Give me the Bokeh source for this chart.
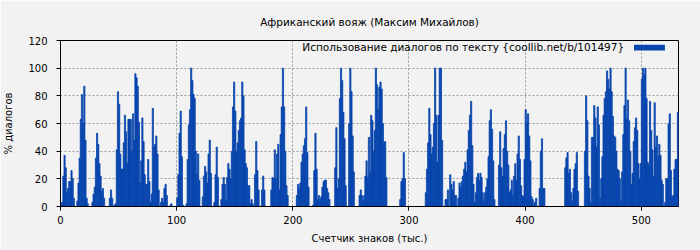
from bokeh.plotting import figure
from bokeh.models import Range1d, FixedTicker, Label, BoxAnnotation
from bokeh.embed import file_html
from bokeh.resources import INLINE

title_text = "Африканский вояж (Максим Михайлов)"
x_label = "Счетчик знаков (тыс.)"
y_label = "% диалогов"
legend_text = "Использование диалогов по тексту {coollib.net/b/101497}"

x_ticks = [0, 100, 200, 300, 400, 500]
y_ticks = [0, 20, 40, 60, 80, 100, 120]

# % of dialogue per 1000-character block, blocks 0..531
values_000 = [2,3,22,37,28,10,13,18,18,26, 20,6,0,0,4,17,35,63,81,60,
              87,48,6,2,0,0,0,3,9,14, 35,53,45,31,22,11,13,6,0,0,
              0,0,6,12,6,0,1,2,41,83, 74,38,27,27,46,66,54,31,63,63,
              63,40,67,48,96,93,87,61,17,33, 64,47,23,
              16,16,34,18,3,9,71,43,45,51,
              38,12,0,3,6,3,13,16,8,0, 0,1,2,0,0,0,0]
values_100 = [6,23,53, 69,36,1,0,0,2,34,59,70,100,
              91,81,78,40,23,38,19,0,0,7, 22,29,25,17,38,48,24,0,0,3,
              23,43,21,0,0,5,16,21,16,5, 21,31,27,20,40,72,90,69,40,46,
              55,62,
              64,90,80,41,31,28,15,15,2,5, 2,0,23,47,26,12,0,0,12,22,
              12,0,0,0,0,0,12,21,20,41, 20,38,45,12,52,72,100,72,40,15,
              8,0,0,0,0]
values_200 = [0,0,0,8,16,
              13,17,32,38,44,49,72,39,14,0, 0,0,1,26,53,27,5,8,5,7,
              14,18,19,19,13,10,5,
              0,0,0,0,28,57,13,20,78,100, 91,68,49,15,0,0,60,100,83,51,
              25,0,0,0,0,8,12,8,4,8, 22,33,21,50,25,66,62,40,55,100,
              88,70,86,90,85,60,46,47,21,0, 0,0,0,0,0,0,0,0,0,0,
              5,18,20,39,20, 0,0,0]
values_300 = [0,0,0,0,0,0,0,0,0,0,0,0,0,0,
              10,27,46,71,52,38,43,60,100,66, 32,66,100,100,48,0,0,5,5,12,
              0,23,16,12,18,8,8,0,6,17, 14,18,22,27,32,25,41,55,66,76,
              44,16,3,10,21,24,19,24,21,10, 4,10,14,20,36,62,70,56,33,5,
              0,0,0,30,54,28,22,42,52,62, 40,30,10,12,
              19,8,22,31,19,38,51,34,15,8, 7,34]
values_400 = [70,60,67,51,33,7,5,1, 3,6,0,0,13,40,49,13,13,
              0,0,0,0,0,0,0,0,0,0,0,0,0,0,0,0,0,
              28,35,39,24,27,10,4,13,27,31,39,11,
              0,0,0,0,0,
              40,80,62,22,13,3,50,50,73,64,43,72,59,
              6,20,36,66,78,83,98,92,85,100,
              83,65,51,50,40,27,26,20,4,25, 52,73,100,63,77,62,40,16,24,47,
              57,64,55,31,20,31]
values_500 = [92,100,95,100,
              78,32,30,76,55,41,22,75,43,51, 36,45,37,19,16,0,3,20,20,60,
              67,26,7,8,27,34,34,68]

values = values_000 + values_100 + values_200 + values_300 + values_400 + values_500
blocks = list(range(len(values)))

BG = "#f2f2f2"
BAR = "#0845ad"
FONT = "DejaVu Sans"

p = figure(width=700, height=250, output_backend="svg", toolbar_location=None,
           x_range=Range1d(0, len(values)), y_range=Range1d(0, 120),
           min_border_left=60, min_border_right=22, min_border_top=40,
           min_border_bottom=44)

p.background_fill_color = BG
p.border_fill_color = BG
p.outline_line_color = "black"
p.outline_line_width = 1

p.title.text = title_text
p.title.align = "center"
p.title.text_font = FONT
p.title.text_font_size = "10.5px"
p.title.text_font_style = "normal"
p.title.text_color = "black"
p.title.standoff = 25

p.quad(left=[b for b in blocks], right=[b + 1 for b in blocks],
       bottom=0, top=values, fill_color=BAR, line_color=BAR, line_width=0.8)

for ax in (p.xaxis[0], p.yaxis[0]):
    ax.major_tick_out = 4
    ax.major_tick_in = 0
    ax.minor_tick_out = 0
    ax.minor_tick_in = 0
    ax.axis_line_color = "black"
    ax.major_tick_line_color = "black"
    ax.major_label_text_font = FONT
    ax.major_label_text_font_size = "10px"
    ax.major_label_text_color = "black"
    ax.axis_label_text_font = FONT
    ax.axis_label_text_font_size = "10px"
    ax.axis_label_text_font_style = "normal"
    ax.axis_label_text_color = "black"

p.xaxis.ticker = FixedTicker(ticks=x_ticks)
p.yaxis.ticker = FixedTicker(ticks=y_ticks)
p.xaxis.axis_label = x_label
p.yaxis.axis_label = y_label
p.xaxis.major_label_standoff = 5
p.xaxis.axis_label_standoff = 6
p.yaxis.major_label_standoff = 9
p.yaxis.axis_label_standoff = 11

for g in (p.xgrid[0], p.ygrid[0]):
    g.grid_line_color = "#9a9a9a"
    g.grid_line_dash = "2 2"
    g.grid_line_width = 1
p.xgrid.ticker = FixedTicker(ticks=x_ticks)
p.ygrid.ticker = FixedTicker(ticks=y_ticks)

# legend (text on the left of the swatch, as in the original)
xmax = len(values)
p.add_layout(Label(x=xmax * 0.912, y=115, text=legend_text, text_align="right",
                   text_baseline="middle", text_font=FONT, text_font_size="10.5px",
                   text_color="black"))
p.add_layout(BoxAnnotation(left=xmax * 0.928, right=xmax * 0.978, bottom=112.8, top=117.0,
                           fill_color=BAR, fill_alpha=1.0, line_color=None))

open("out.html", "w").write(file_html(p, INLINE))
